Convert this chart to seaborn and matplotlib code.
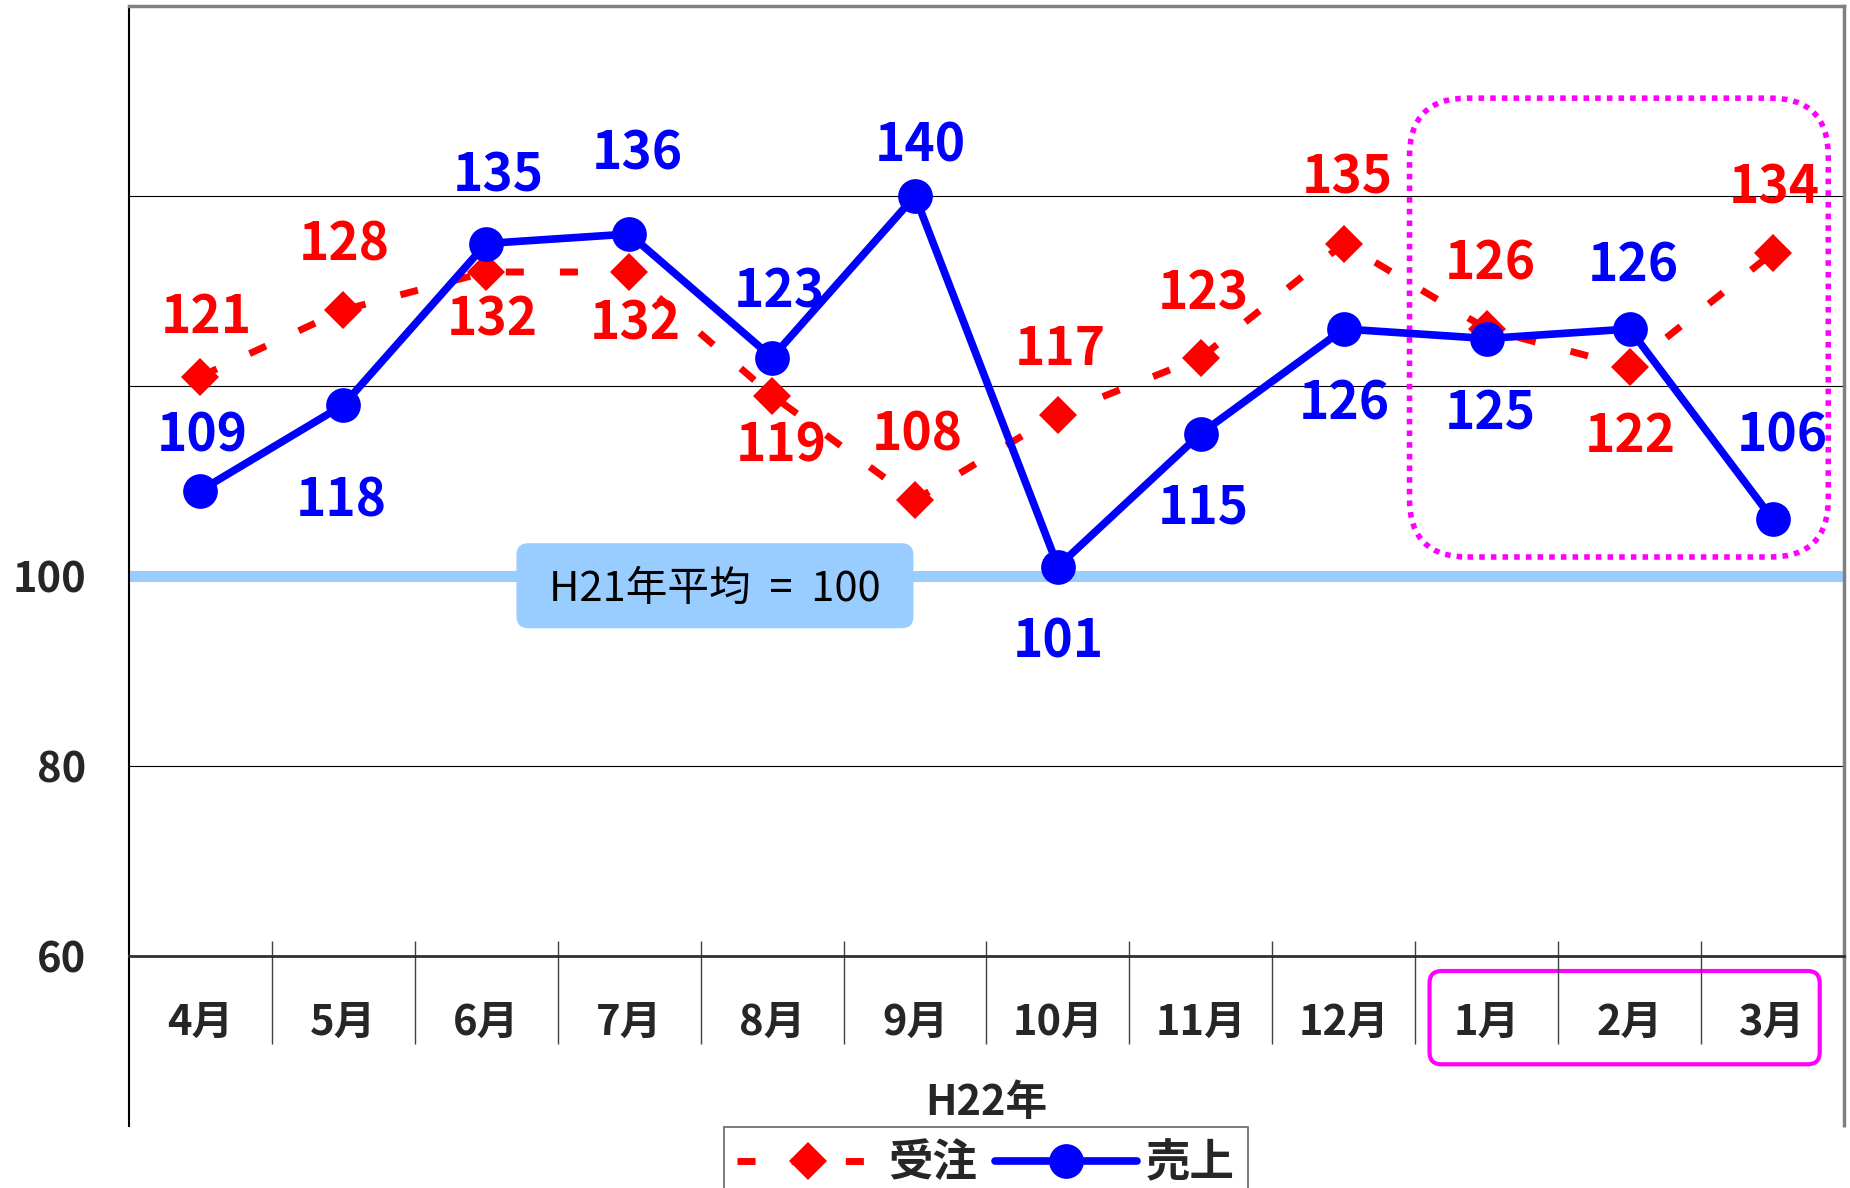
import numpy as np
import pandas as pd
import seaborn as sns
import matplotlib
matplotlib.use('Agg')
from matplotlib import pyplot as plt
from matplotlib.patches import FancyBboxPatch

# Datos
months = ['4月', '5月', '6月', '7月', '8月', '9月', '10月', '11月', '12月', '1月', '2月', '3月']
orders = [121, 128, 132, 132, 119, 108, 117, 123, 135, 126, 122, 134]   # 受注
sales = [109, 118, 135, 136, 123, 140, 101, 115, 126, 125, 126, 106]    # 売上
series_names = ['受注', '売上']
y_ticks = [60, 80, 100, 120, 140, 160]
y_tick_labels = ['60', '80', '100', '', '', '']
year_label = 'H22年'
base_value = 100
base_label = 'H21年平均 = 100'

# offsets (px) de las etiquetas de datos
orders_offsets = [(6, 59), (1, 65), (6, -48), (6, -52), (9, -51), (2, 65),
                  (2, 65), (2, 64), (4, 65), (4, 65), (1, -69), (2, 65)]
sales_offsets = [(2, 55), (-2, -96), (12, 68), (8, 80), (7, 66), (5, 50),
                 (0, -75), (2, -75), (1, -75), (4, -76), (4, 63), (10, 83)]

RED, BLUE, MAGENTA, LIGHTBLUE = '#FF0000', '#0000FF', '#FF00FF', '#99CCFF'

sns.set_theme(style='white')
plt.rcParams['font.family'] = ['Noto Sans CJK JP', 'DejaVu Sans']

W, H = 1850, 1188
fig = plt.figure(figsize=(W / 100, H / 100), dpi=100)
ax = fig.add_axes([129 / W, 1 - 956 / H, (1844 - 129) / W, (956 - 6) / H])

df = pd.DataFrame({'mes': months, series_names[0]: orders, series_names[1]: sales})

# Lineas
sns.lineplot(data=df, x='mes', y=series_names[0], ax=ax, color=RED, linewidth=5,
             linestyle=(0, (2.6, 5.2)), marker='D', markersize=19, markeredgewidth=0,
             label=series_names[0], sort=False, zorder=3)
sns.lineplot(data=df, x='mes', y=series_names[1], ax=ax, color=BLUE, linewidth=5.5,
             marker='o', markersize=25, markeredgewidth=0,
             label=series_names[1], sort=False, zorder=4)
ax.set(xlabel='', ylabel='')
ax.get_legend().remove()

# Linea base 100 y etiqueta
ax.axhline(base_value, color=LIGHTBLUE, linewidth=8, zorder=1.5)
px_x = (1844 - 129) / len(months)
px_y = 950 / (y_ticks[-1] - y_ticks[0])
ax.add_patch(FancyBboxPatch((2.211, 94.5), 2.778, 8.95,
                            boxstyle=f'round,pad=0,rounding_size={12 / px_x}',
                            mutation_aspect=px_x / px_y, fc=LIGHTBLUE, ec='none', zorder=2))
ax.text(3.6, 98.6, base_label.replace(' = ', '  =  '), ha='center', va='center', fontsize=30,
        color='black', zorder=2.5)

# Etiquetas de datos
for i, (v, off) in enumerate(zip(orders, orders_offsets)):
    ax.annotate(str(v), (i, v), xytext=off, textcoords='offset pixels', ha='center', va='center',
                color=RED, fontsize=37, fontweight='bold', zorder=2.8)
for i, (v, off) in enumerate(zip(sales, sales_offsets)):
    ax.annotate(str(v), (i, v), xytext=off, textcoords='offset pixels', ha='center', va='center',
                color=BLUE, fontsize=37, fontweight='bold', zorder=2.8)

# Recuadro punteado (1月-3月)
ax.add_patch(FancyBboxPatch((8.46, 102.0), 2.93, 48.3,
                            boxstyle=f'round,pad=0,rounding_size={58 / px_x}',
                            mutation_aspect=px_x / px_y, fill=False, ec=MAGENTA, lw=4,
                            linestyle=(0, (1, 1.1)), capstyle='butt', zorder=2))

# Ejes
ax.set_xlim(-0.5, len(months) - 0.5)
ax.set_ylim(y_ticks[0], y_ticks[-1])
ax.set_yticks(y_ticks, y_tick_labels)
ax.set_xticks(range(len(months)), months)
ax.tick_params(axis='y', direction='in', length=11, color='#808080', width=1, pad=31,
               labelsize=30)
ax.tick_params(axis='x', length=0, pad=33, labelsize=30)
for lab in ax.get_xticklabels() + ax.get_yticklabels():
    lab.set_fontweight('bold')
ax.grid(axis='y', color='black', linewidth=0.8)
ax.grid(axis='x', visible=False)
ax.spines['left'].set(color='black', linewidth=1.5)
ax.spines['bottom'].set(color='#303030', linewidth=2)
ax.spines['top'].set(color='#808080', linewidth=2.5)
ax.spines['right'].set(color='#808080', linewidth=2.5)

# Divisiones de categorias
xt = ax.get_xaxis_transform()
ax.vlines(np.arange(len(months) - 1) + 0.5, -88 / 950, 15 / 950, transform=xt,
          colors='#404040', linewidth=1, clip_on=False)
ax.vlines([-0.5], -171 / 950, 0, transform=xt, colors='black', linewidth=1.5, clip_on=False)
ax.vlines([len(months) - 0.5], -171 / 950, 0, transform=xt, colors='#808080', linewidth=2.5,
          clip_on=False)

# Recuadro solido (1月-3月)
ax.add_patch(FancyBboxPatch((8.6, -0.114), 2.73, 0.0982, transform=xt,
                            boxstyle=f'round,pad=0,rounding_size={12 / px_x}',
                            mutation_aspect=px_x / 950, fill=False, ec=MAGENTA, lw=3,
                            clip_on=False))

ax.text(0.5, -(1103 - 956) / 950, year_label, transform=ax.transAxes, ha='center', va='center',
        fontsize=30, fontweight='bold')

# Leyenda
handles = ax.get_lines()[:2]
leg = fig.legend(handles=handles, labels=series_names, ncol=2, loc='upper center',
                 bbox_to_anchor=(986 / W, 1 - 1127 / H), fontsize=32, frameon=True,
                 fancybox=False, handlelength=3.2, handletextpad=0.2, columnspacing=0.4,
                 borderpad=0.3, borderaxespad=0)
leg.get_frame().set(edgecolor='#404040', linewidth=1.2, facecolor='white')
for t in leg.get_texts():
    t.set_fontweight('bold')

fig.savefig('out.png', dpi=100)
